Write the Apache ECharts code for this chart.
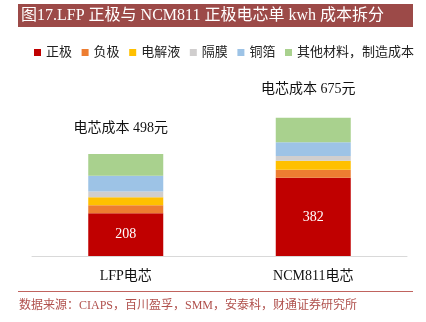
<!DOCTYPE html>
<html><head><meta charset="utf-8">
<script src="https://cdn.jsdelivr.net/npm/echarts@6/dist/echarts.min.js"></script>
<style>html,body{margin:0;padding:0;background:#fff}#c{width:426px;height:322px}</style>
</head><body><div id="c"></div>
<script>
const categories = ['LFP电芯', 'NCM811电芯'];
const seriesNames = ['正极', '负极', '电解液', '隔膜', '铜箔', '其他材料，制造成本'];
const cathode = [208, 382];
const anode = [39, 39];
const electrolyte = [40, 44];
const separator = [28, 23];
const copperFoil = [77, 67];
const others = [106, 120];
const totals = [498, 675];
const titleText = '图17.LFP 正极与 NCM811 正极电芯单 kwh 成本拆分';
const sourceText = '数据来源：CIAPS，百川盈孚，SMM，安泰科，财通证券研究所';

const FONT = "'Liberation Serif', 'Noto Sans CJK SC', serif";
const colors = ['#C00000', '#ED7D31', '#FFC000', '#D0CECE', '#9DC3E6', '#A9D18E'];
const values = [cathode, anode, electrolyte, separator, copperFoil, others];

const series = seriesNames.map((name, i) => {
  const s = {
    name, type: 'bar', stack: 'total', barWidth: '40%',
    itemStyle: { color: colors[i] },
    data: values[i].slice()
  };
  if (i === 0) {
    s.label = { show: true, position: 'inside', color: '#fff', fontSize: 14, fontFamily: FONT };
  }
  if (i === seriesNames.length - 1) {
    s.data = values[i].map((v, j) => ({
      value: v,
      label: { show: true, position: 'top', distance: j === 0 ? 19 : 21, offset: [-5, 0],
        color: '#111', fontSize: 14, fontFamily: FONT,
        formatter: '电芯成本 ' + totals[j] + '元' }
    }));
  }
  return s;
});

const chart = echarts.init(document.getElementById('c'));
chart.setOption({
  animation: false,
  graphic: [
    { type: 'rect', shape: { x: 18, y: 4, width: 395, height: 23 }, style: { fill: '#9C4A48' } },
    { type: 'text', x: 21, y: 15.5, style: { text: titleText, fill: '#fff', fontSize: 16, fontFamily: FONT, verticalAlign: 'middle' } },
    { type: 'line', shape: { x1: 18, y1: 291.5, x2: 413, y2: 291.5 }, style: { stroke: '#C0635E', lineWidth: 1 } },
    { type: 'text', x: 19, y: 306, style: { text: sourceText, fill: '#B0514D', fontSize: 12, fontFamily: FONT, verticalAlign: 'middle' } }
  ],
  legend: {
    data: seriesNames, left: 34, top: 46, padding: 0, itemWidth: 7, itemHeight: 7, itemGap: 9.6,
    icon: 'rect',
    textStyle: { fontSize: 13, fontFamily: FONT, color: '#222' }
  },
  grid: { left: 32, right: 19, top: 92, bottom: 66 },
  xAxis: {
    type: 'category', data: categories,
    axisLine: { lineStyle: { color: '#D9D9D9', width: 1 } },
    axisTick: { show: false },
    axisLabel: { fontSize: 14, color: '#111', fontFamily: FONT, margin: 13 }
  },
  yAxis: { type: 'value', min: 0, max: 800, show: false, splitLine: { show: false } },
  series
});
</script></body></html>
